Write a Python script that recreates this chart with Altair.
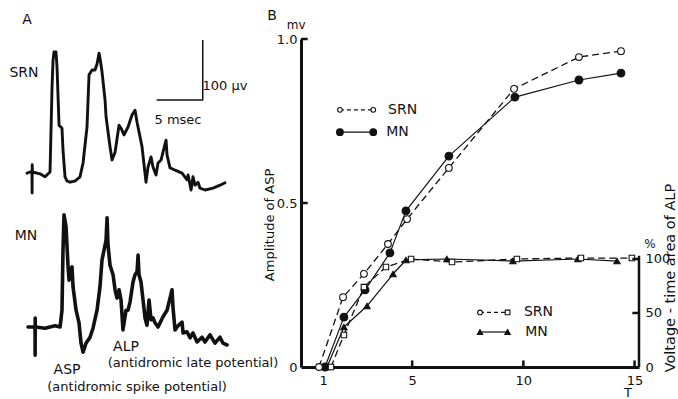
import altair as alt
import pandas as pd

FONT = "DejaVu Sans"
INK = "#111111"

# ---------------- Panel A: recorded traces ----------------
# time in msec from start of sweep, potential in µV relative to baseline
SRN_T = [0, 0.33, 0.54, 0.55, 0.56, 0.6, 1.41, 1.96, 2.5, 2.72, 2.83, 2.93, 3.15, 3.26, 3.48, 3.8,
         3.91, 4.13, 4.35, 4.67, 5.22, 5.76, 6.09, 6.52, 6.74, 7.07, 7.39, 7.61, 7.83, 7.93, 8.15, 8.48,
         8.59, 9.02, 9.24, 9.57, 10.0, 10.22, 10.54, 10.98, 11.41, 11.74, 11.96, 12.5, 12.93, 13.15,
         13.48, 13.7, 14.02, 14.24, 14.57, 14.78, 15.11, 15.22, 15.54, 16.09, 16.85, 17.39, 17.5, 17.83,
         18.04, 18.26, 18.59, 18.8, 19.35, 20.22, 20.98, 21.52]
SRN_V = [-2, 0, 0, -35, 12, 0, -3, -8, 0, 142, 187, 200, 200, 175, 78, 73,
         37, -8, -15, -17, -15, -8, 15, 75, 162, 170, 170, 180, 198, 190, 167, 120,
         92, 42, 20, 33, 78, 73, 62, 75, 95, 103, 83, 42, -17, 8,
         25, 8, -5, 15, 20, 33, 53, 28, 7, 3, -2, -13, -5, -30,
         -8, -22, -17, -27, -30, -27, -22, -18]

MN_T = [0.1, 0.87, 0.88, 0.89, 0.9, 1.96, 3.04, 3.59, 3.8, 3.91, 4.02, 4.24, 4.46, 4.57, 4.67,
        4.89, 5.0, 5.33, 5.65, 5.87, 6.09, 6.41, 6.85, 7.17, 7.61, 7.93, 8.15, 8.37, 8.59, 8.7,
        8.8, 9.02, 9.35, 9.57, 9.78, 10.0, 10.22, 10.43, 10.76, 10.98, 11.2, 11.52, 11.74, 11.96,
        12.07, 12.17, 12.39, 12.61, 12.83, 13.04, 13.26, 13.48, 13.7, 13.91, 14.24, 14.78, 15.22,
        15.54, 15.76, 15.87, 16.09, 16.41, 16.85, 16.96, 17.39, 17.72, 18.04, 18.48, 19.02, 19.35,
        19.89, 20.43, 20.98, 21.3, 21.74]
MN_V = [0, 0, -47, 15, 0, -2, 2, 0, 28, 128, 187, 167, 100, 78, 95,
        100, 67, 28, 7, -27, -42, -27, -17, -2, 28, 67, 112, 128, 145, 182,
        137, 103, 87, 62, 48, 62, 45, -5, 28, 28, 42, 75, 87, 92,
        120, 87, 75, 45, 15, 3, 45, 12, 15, 7, 0, 17, 28,
        48, 62, 32, -5, 2, 8, -10, -8, -18, -10, -25, -17, -25,
        -13, -27, -17, -27, -30]

# calibration bars: 5 msec and 100 µV
CAL_T = [14.1, 19.1, 19.1]
CAL_V = [120, 120, 220]

# ---------------- Panel B: stimulus strength T ----------------
ASP_SRN_T = [0.81, 1.89, 2.83, 3.91, 4.77, 6.65, 9.58, 12.5, 14.39]
ASP_SRN = [0.0, 0.213, 0.284, 0.375, 0.451, 0.607, 0.848, 0.945, 0.963]      # mV
ASP_MN_T = [1.08, 1.93, 2.88, 4.0, 4.72, 6.65, 9.62, 12.5, 14.39]
ASP_MN = [0.0, 0.152, 0.235, 0.348, 0.476, 0.643, 0.823, 0.875, 0.896]       # mV
ALP_SRN_T = [1.35, 1.93, 2.83, 3.82, 4.95, 6.79, 9.71, 12.59, 14.88]
ALP_SRN = [0, 29.6, 74, 92.6, 100, 97.2, 100, 100.9, 100.9]                  # %
ALP_MN_T = [1.17, 1.93, 2.97, 4.14, 4.72, 6.56, 9.53, 12.45, 14.21]
ALP_MN = [0, 37, 56.5, 86.1, 99.1, 100, 98.1, 100, 98.1]                      # %

X_TICKS = [1, 5, 10, 15]
ASP_TICKS = [0, 0.5, 1.0]
ALP_TICKS = [0, 50, 100]

# ---------------- layout (scale domains) ----------------
W, H = 338, 328
XB = [0, 15.2]
YB = [0, 1.0]
YP = [0, 303.7]
XA = [29.78, 66.52]
YA_SRN = [-325, 221.67]
YA_MN = [-66.67, 480]


def sc(d):
    return alt.Scale(domain=d, nice=False, zero=False)


def df_xy(xs, ys):
    return pd.DataFrame({"x": xs, "y": ys, "i": list(range(len(xs)))})


def line(df, xd, yd, width=1.2, dash=None, xaxis=None, yaxis=None):
    kw = dict(color=INK, strokeWidth=width, strokeJoin="round")
    if dash:
        kw["strokeDash"] = dash
    return alt.Chart(df).mark_line(**kw).encode(
        x=alt.X("x:Q", scale=sc(xd), axis=xaxis),
        y=alt.Y("y:Q", scale=sc(yd), axis=yaxis),
        order="i:Q",
    )


def pts(df, xd, yd, shape, size, filled):
    return alt.Chart(df).mark_point(
        shape=shape, size=size, filled=True, fill=INK if filled else "white",
        stroke=INK, strokeWidth=1.1, opacity=1, fillOpacity=1,
    ).encode(
        x=alt.X("x:Q", scale=sc(xd), axis=None),
        y=alt.Y("y:Q", scale=sc(yd), axis=None),
    )


def texts(df, xd, yd, angle=0):
    kw = dict(font=FONT, color=INK, align="center", baseline="middle")
    if angle:
        kw["angle"] = angle
    return alt.Chart(df).mark_text(**kw).encode(
        x=alt.X("x:Q", scale=sc(xd), axis=None),
        y=alt.Y("y:Q", scale=sc(yd), axis=None),
        text="label:N",
        size=alt.Size("fs:Q", scale=None),
    )


def rules(df, xd, yd, width=2.5):
    return alt.Chart(df).mark_rule(color=INK, strokeWidth=width).encode(
        x=alt.X("x:Q", scale=sc(xd), axis=None),
        x2="x2:Q",
        y=alt.Y("y:Q", scale=sc(yd), axis=None),
        y2="y2:Q",
    )


axis_common = dict(labelFont=FONT, labelFontSize=13, labelColor=INK, domainColor=INK,
                   grid=False, ticks=False, tickSize=0, labelFlush=False, title="")
x_axis = alt.Axis(orient="bottom", values=X_TICKS, format="d", labelPadding=7,
                  domainWidth=3, **axis_common)
y_left = alt.Axis(orient="left", values=ASP_TICKS, labelPadding=4, domainWidth=3,
                  labelExpr="datum.value == 0 ? '0' : format(datum.value, '.1f')", **axis_common)
y_right = alt.Axis(orient="right", values=ALP_TICKS, labelPadding=6, domain=False, **axis_common)

layers = []

# Panel A traces
layers.append(alt.Chart(df_xy(SRN_T, SRN_V)).mark_line(
    color=INK, strokeWidth=2.9, strokeJoin="round", strokeCap="round").encode(
    x=alt.X("x:Q", scale=sc(XA), axis=None), y=alt.Y("y:Q", scale=sc(YA_SRN), axis=None), order="i:Q"))
layers.append(alt.Chart(df_xy(MN_T, MN_V)).mark_line(
    color=INK, strokeWidth=3.6, strokeJoin="round", strokeCap="round").encode(
    x=alt.X("x:Q", scale=sc(XA), axis=None), y=alt.Y("y:Q", scale=sc(YA_MN), axis=None), order="i:Q"))
layers.append(line(df_xy(CAL_T, CAL_V), XA, YA_SRN, width=1.5))

layers.append(texts(pd.DataFrame({
    "label": ["A", "SRN", "100 µv", "5 msec"],
    "x": [0, -0.33, 21.52, 16.41], "y": [253, 165, 143.3, 86.7], "fs": [14, 14, 13, 13]}), XA, YA_SRN))
layers.append(texts(pd.DataFrame({
    "label": ["MN", "ASP", "(antidromic spike potential)", "ALP", "(antidromic late potential)"],
    "x": [-0.11, 4.35, 11.96, 10.76, 18.04], "y": [151.7, -71.7, -100, -33.3, -60],
    "fs": [14, 14, 13, 14, 13]}), XA, YA_MN))

# Panel B: ASP amplitude (left axis)
layers.append(line(df_xy(ASP_SRN_T, ASP_SRN), XB, YB, width=1.3, dash=[7, 4], xaxis=x_axis, yaxis=y_left))
layers.append(line(df_xy(ASP_MN_T, ASP_MN), XB, YB, width=1.2))
layers.append(pts(df_xy(ASP_MN_T, ASP_MN), XB, YB, "circle", 60, True))
layers.append(pts(df_xy(ASP_SRN_T, ASP_SRN), XB, YB, "circle", 45, False))

# Panel B: ALP area (right axis)
layers.append(line(df_xy(ALP_SRN_T, ALP_SRN), XB, YP, width=1.3, dash=[7, 4], yaxis=y_right))
layers.append(line(df_xy(ALP_MN_T, ALP_MN), XB, YP, width=1.2))
layers.append(pts(df_xy(ALP_MN_T, ALP_MN), XB, YP, "triangle-up", 40, True))
layers.append(pts(df_xy(ALP_SRN_T, ALP_SRN), XB, YP, "square", 30, False))

# inward ticks and partial right axis line
layers.append(rules(pd.DataFrame({"x": [0, 0], "x2": [0.3, 0.3], "y": [0.5, 1.0], "y2": [0.5, 1.0]}), XB, YB, 2.5))
layers.append(rules(pd.DataFrame({"x": [5, 10, 15], "x2": [5, 10, 15], "y": [0, 0, 0], "y2": [0.02, 0.02, 0.02]}), XB, YB, 2.5))
layers.append(rules(pd.DataFrame({"x": [14.9, 14.9, 15.2], "x2": [15.2, 15.2, 15.2],
                                  "y": [50, 100, 0], "y2": [50, 100, 103]}), XB, YP, 2.5))

# upper legend (ASP)
layers.append(line(df_xy([1.75, 3.25], [0.784, 0.784]), XB, YB, width=1.2, dash=[4, 3]))
layers.append(pts(df_xy([1.75, 3.25], [0.784, 0.784]), XB, YB, "circle", 22, False))
layers.append(line(df_xy([1.75, 3.25], [0.716, 0.716]), XB, YB, width=1.2))
layers.append(pts(df_xy([1.75, 3.25], [0.716, 0.716]), XB, YB, "circle", 45, True))

# lower legend (ALP)
layers.append(line(df_xy([8.05, 9.29], [50.5, 50.5]), XB, YP, width=1.2, dash=[4, 3]))
layers.append(pts(df_xy([8.05], [50.5]), XB, YP, "circle", 22, False))
layers.append(pts(df_xy([9.29], [50.5]), XB, YP, "square", 22, False))
layers.append(line(df_xy([8.05, 9.29], [32.4, 32.4]), XB, YP, width=1.2))
layers.append(pts(df_xy([8.05, 9.29], [32.4, 32.4]), XB, YP, "triangle-up", 30, True))

# panel B texts
layers.append(texts(pd.DataFrame({
    "label": ["B", "mv", "T", "SRN", "MN"],
    "x": [-1.30, -0.22, 14.70, 4.57, 4.34], "y": [1.070, 1.043, -0.080, 0.784, 0.716],
    "fs": [14, 12, 13, 14, 14]}), XB, YB))
layers.append(texts(pd.DataFrame({
    "label": ["%", "SRN", "MN"],
    "x": [15.69, 10.68, 10.59], "y": [113.5, 50.5, 32.4], "fs": [12, 14, 14]}), XB, YP))
layers.append(texts(pd.DataFrame({
    "label": ["Amplitude of ASP", "Voltage - time area of ALP"],
    "x": [-1.39, 16.62], "y": [0.433, 0.271], "fs": [13, 14.5]}), XB, YB, angle=270))

chart = alt.layer(*layers).resolve_scale(x="independent", y="independent").properties(
    width=W, height=H,
    padding={"left": 301, "top": 39, "right": 39, "bottom": 32},
    autosize=alt.AutoSizeParams(type="none"),
    background="white",
).configure_view(strokeWidth=0)

chart.save("out.html", embed_options={"renderer": "svg", "actions": False})
